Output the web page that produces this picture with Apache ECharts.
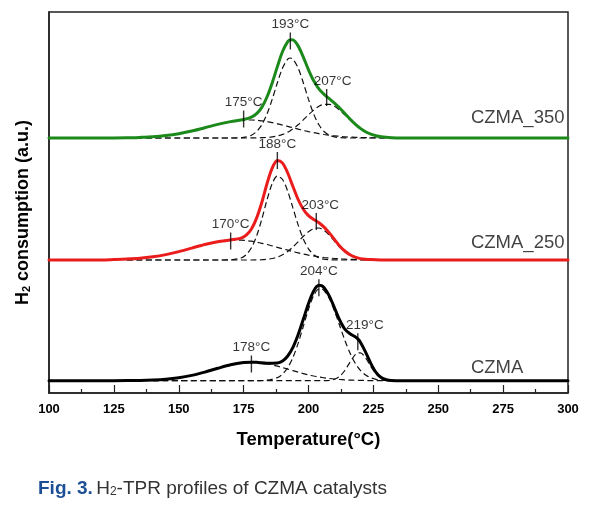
<!DOCTYPE html>
<html><head><meta charset="utf-8">
<script src="https://cdn.jsdelivr.net/npm/echarts@6/dist/echarts.min.js"></script>
<style>html,body{margin:0;padding:0;background:#fff}#c{width:599px;height:507px}</style>
</head><body><div id="c"></div>
<script>
// ---------- data ----------
const xMin = 100, xMax = 300, xStep = 25;
const sampleNames = ['CZMA_350', 'CZMA_250', 'CZMA'];
const stackOffsets = [255, 133, 12.3];          // vertical offset of each profile (a.u.)

// CZMA_350
const temps350 = [100,110,120,130,135,140,145,150,155,160,165,170,175,178,180,182,184,186,188,190,192,193,194,196,198,200,202,204,206,208,210,212,214,216,218,220,222,224,226,228,232,236,250,275,300];
const total350 = [0,0,0,0.2,0.6,1.2,2.4,4.3,7.0,10.2,13.6,16.4,18.5,20.8,24.3,30.6,41.0,55.1,71.4,86.5,96.3,98.3,98.1,92.1,80.9,68.2,57.2,49.2,43.7,39.3,34.9,30.0,24.5,19.0,13.9,9.6,6.2,3.8,2.2,1.2,0.3,0,0,0,0];
const peakA350 = [null,null,null,0.2,0.6,1.2,2.4,4.3,7.0,10.2,13.6,16.4,17.9,18.0,17.7,17.1,16.4,15.4,14.2,12.9,11.6,10.9,10.2,8.9,7.6,6.4,5.3,4.3,3.5,2.8,2.1,1.7,1.2,0.9,0.7,0.5,0.4,0.3,0.2,0.1,0.05,0,null,null,null];
const peakB350 = [null,null,null,0,0,0,0,0,0,0,0,0,0.6,2.8,6.5,13.2,24.0,38.6,55.2,70.0,78.8,80.0,78.8,70.0,55.2,38.6,24.0,13.2,6.5,2.8,1.1,0.4,0.1,0,0,0,0,0,0,0,0,0,null,null,null];
const peakC350 = [null,null,null,0,0,0,0,0,0,0,0,0,0,0.05,0.1,0.3,0.55,1.1,2.0,3.6,5.9,7.4,9.1,13.2,18.1,23.2,27.9,31.7,33.7,33.7,31.7,27.9,23.2,18.1,13.2,9.1,5.9,3.6,2.0,1.1,0.3,0.05,null,null,null];
const markT350 = [175, 193, 207];
const markH350 = [19, 97, 40.5];

// CZMA_250
const temps250 = [100,110,120,125,130,135,140,145,150,155,160,165,170,174,176,178,180,182,184,186,188,190,192,194,196,198,200,202,204,206,208,210,212,214,216,218,220,222,224,228,232,250,275,300];
const total250 = [0,0,0,0.4,0.9,1.7,3.2,5.4,8.4,11.9,15.5,18.3,20.1,21.9,24.8,31.0,41.9,57.5,76.2,91.9,99.6,96.9,87.0,73.5,60.5,50.8,44.4,40.6,37.3,32.9,27.1,20.5,14.1,9.0,5.2,2.8,1.4,0.7,0.4,0.1,0,0,0,0];
const peakA250 = [null,null,null,null,0.9,1.7,3.2,5.4,8.4,11.9,15.5,18.3,19.9,19.9,19.4,18.8,17.8,16.7,15.5,14.1,12.7,11.2,9.8,8.4,7.2,6.0,4.9,4.0,3.2,2.5,2.0,1.5,1.1,0.9,0.6,0.5,0.3,0.25,0.2,0.1,0,null,null,null];
const peakB250 = [null,null,null,null,0,0,0,0,0,0,0,0,0.2,2.0,5.4,12.2,24.0,40.8,60.0,76.3,84.0,80.5,68.7,52.1,35.1,21.1,11.2,5.3,2.2,0.8,0.3,0.1,0,0,0,0,0,0,0,0,0,null,null,null];
const peakC250 = [null,null,null,null,0,0,0,0,0,0,0,0,0,0,0,0,0.1,0.3,0.7,1.5,2.9,5.2,8.5,13.0,18.2,23.7,28.3,31.3,32.0,29.6,24.8,18.9,13.0,8.1,4.6,2.3,1.1,0.4,0.15,0,0,null,null,null];
const markT250 = [170, 188, 203];
const markH250 = [19, 99.5, 38.5];

// CZMA
const tempsCZMA = [100,110,120,130,135,140,145,150,155,160,165,170,175,178,180,184,188,190,192,194,196,198,200,202,204,205,206,208,210,212,214,216,218,219,220,222,224,226,228,230,232,236,250,275,300];
const totalCZMA = [0,0,0,0.1,0.2,0.6,1.4,2.9,5.3,8.6,12.4,15.9,18.1,18.5,18.4,17.5,17.7,19.7,24.7,33.3,45.9,61.4,77.2,89.8,95.4,95.1,93.0,84.8,72.9,60.7,51.6,46.9,43.9,41.8,38.5,28.6,17.3,8.4,3.2,1.0,0.2,0,0,0,0];
const peakACZMA = [null,null,null,null,null,0.6,1.4,2.9,5.3,8.6,12.4,15.9,18.1,18.5,18.3,17.0,14.6,13.1,11.6,10.1,8.6,7.1,5.8,4.7,3.7,3.3,2.9,2.2,1.6,1.2,0.85,0.6,0.4,0.35,0.3,0.2,0.13,0.08,0.05,0.03,0,0,null,null,null];
const peakBCZMA = [null,null,null,null,null,0,0,0,0,0,0,0,0,0,0.05,0.5,3.1,6.6,13.1,23.2,37.3,54.3,71.4,85.1,91.7,91.8,90.1,82.3,69.9,55.2,40.5,27.7,17.5,13.6,10.4,5.7,2.9,1.4,0.6,0.25,0.1,0,null,null,null];
const peakCCZMA = [null,null,null,null,null,0,0,0,0,0,0,0,0,0,0,0,0,0,0,0,0,0,0,0,0,0,0,0.3,1.4,4.3,10.2,18.6,26.0,27.8,27.8,22.7,14.3,6.9,2.5,0.7,0.15,0,null,null,null];
const markTCZMA = [178, 204, 219];
const markHCZMA = [16.7, 93, 39];

// ---------- chart ----------
const FONT = '"Liberation Sans", Arial, Helvetica, sans-serif';
const samples = [
  {name: sampleNames[0], temps: temps350, total: total350, comps: [peakA350, peakB350, peakC350], mT: markT350, mH: markH350, color: '#1b8a1b', off: stackOffsets[0], nameDy: 20},
  {name: sampleNames[1], temps: temps250, total: total250, comps: [peakA250, peakB250, peakC250], mT: markT250, mH: markH250, color: '#ea1c1c', off: stackOffsets[1], nameDy: 16.7},
  {name: sampleNames[2], temps: tempsCZMA, total: totalCZMA, comps: [peakACZMA, peakBCZMA, peakCCZMA], mT: markTCZMA, mH: markHCZMA, color: '#000000', off: stackOffsets[2], nameDy: 12.4}
];
const labelShift = {207: 6, 203: 4, 219: 7};

function toPairs(temps, vals, off) {
  const out = [];
  temps.forEach((t, i) => { if (vals[i] !== null && vals[i] !== undefined) out.push([t, vals[i] + off]); });
  return out;
}

const series = [];
samples.forEach(s => {
  s.comps.forEach(c => {
    series.push({
      type: 'line', data: toPairs(s.temps, c, s.off), smooth: 0.3,
      symbol: 'none', silent: true, z: 2,
      lineStyle: {color: '#111', width: 1.2, type: [6, 3.5]}
    });
  });
});
samples.forEach(s => {
  series.push({
    type: 'line', name: s.name, data: toPairs(s.temps, s.total, s.off), smooth: 0.3,
    symbol: 'none', silent: true, z: 3,
    lineStyle: {color: s.color, width: 3, join: 'round', cap: 'round'}
  });
  series.push({
    type: 'scatter', silent: true, z: 5, symbol: 'rect', symbolSize: [1.4, 17],
    itemStyle: {color: '#000'},
    data: s.mT.map((t, i) => ({
      value: [t, s.mH[i] + s.off],
      label: {offset: [labelShift[t] || 0, 0]}
    })),
    label: {show: true, position: 'top', distance: 1, fontFamily: FONT, fontSize: 13.5, color: '#000',
      formatter: p => p.value[0] + '°C'}
  });
  series.push({
    type: 'scatter', silent: true, z: 5, symbolSize: 0,
    data: [[262.6, s.off + s.nameDy]],
    label: {show: true, position: 'right', distance: 0, align: 'left', verticalAlign: 'middle',
      fontFamily: FONT, fontSize: 18.5, color: '#111', formatter: () => s.name}
  });
});

const chart = echarts.init(document.getElementById('c'), null, {renderer: 'canvas'});
chart.setOption({
  animation: false,
  backgroundColor: '#fff',
  grid: {left: 49, right: 31, top: 12, bottom: 114, show: true, borderColor: '#222', borderWidth: 1.5, backgroundColor: 'transparent'},
  xAxis: {
    type: 'value', min: xMin, max: xMax, interval: xStep,
    name: 'Temperature(°C)', nameLocation: 'middle', nameGap: 37,
    nameTextStyle: {fontFamily: FONT, fontSize: 18.5, fontWeight: 'bold', color: '#000'},
    axisLine: {show: true, lineStyle: {color: '#222', width: 1.5}},
    axisTick: {show: true, inside: true, length: 8, lineStyle: {color: '#222', width: 1.2}},
    minorTick: {show: true, splitNumber: 2, length: 4, lineStyle: {color: '#222', width: 1.2}},
    axisLabel: {fontFamily: FONT, fontSize: 13, fontWeight: 'bold', color: '#000', margin: 10},
    splitLine: {show: false}
  },
  yAxis: {
    type: 'value', min: 0, max: 381,
    name: '{b|H}{s|2}{b| consumption (a.u.)}', nameLocation: 'middle', nameGap: 17, nameRotate: 90,
    nameTextStyle: {padding: [0, 20, 0, 0], rich: {
      b: {fontFamily: FONT, fontSize: 18, fontWeight: 'bold', color: '#000'},
      s: {fontFamily: FONT, fontSize: 11, fontWeight: 'bold', color: '#000', verticalAlign: 'bottom'}
    }},
    axisLine: {show: true, lineStyle: {color: '#222', width: 1.5}},
    axisTick: {show: false}, axisLabel: {show: false}, splitLine: {show: false}
  },
  graphic: [{
    type: 'text', left: 38, top: 479, silent: true,
    style: {
      text: '{f|Fig. 3.} {t|H}{s|2}{t|-TPR profiles of CZMA catalysts}',
      rich: {
        f: {fill: '#1d4f96', fontFamily: FONT, fontSize: 19, fontWeight: 'bold'},
        t: {fill: '#333', fontFamily: FONT, fontSize: 19},
        s: {fill: '#333', fontFamily: FONT, fontSize: 12, verticalAlign: 'bottom'}
      }
    }
  }],
  series: series
});
</script>
</body></html>
